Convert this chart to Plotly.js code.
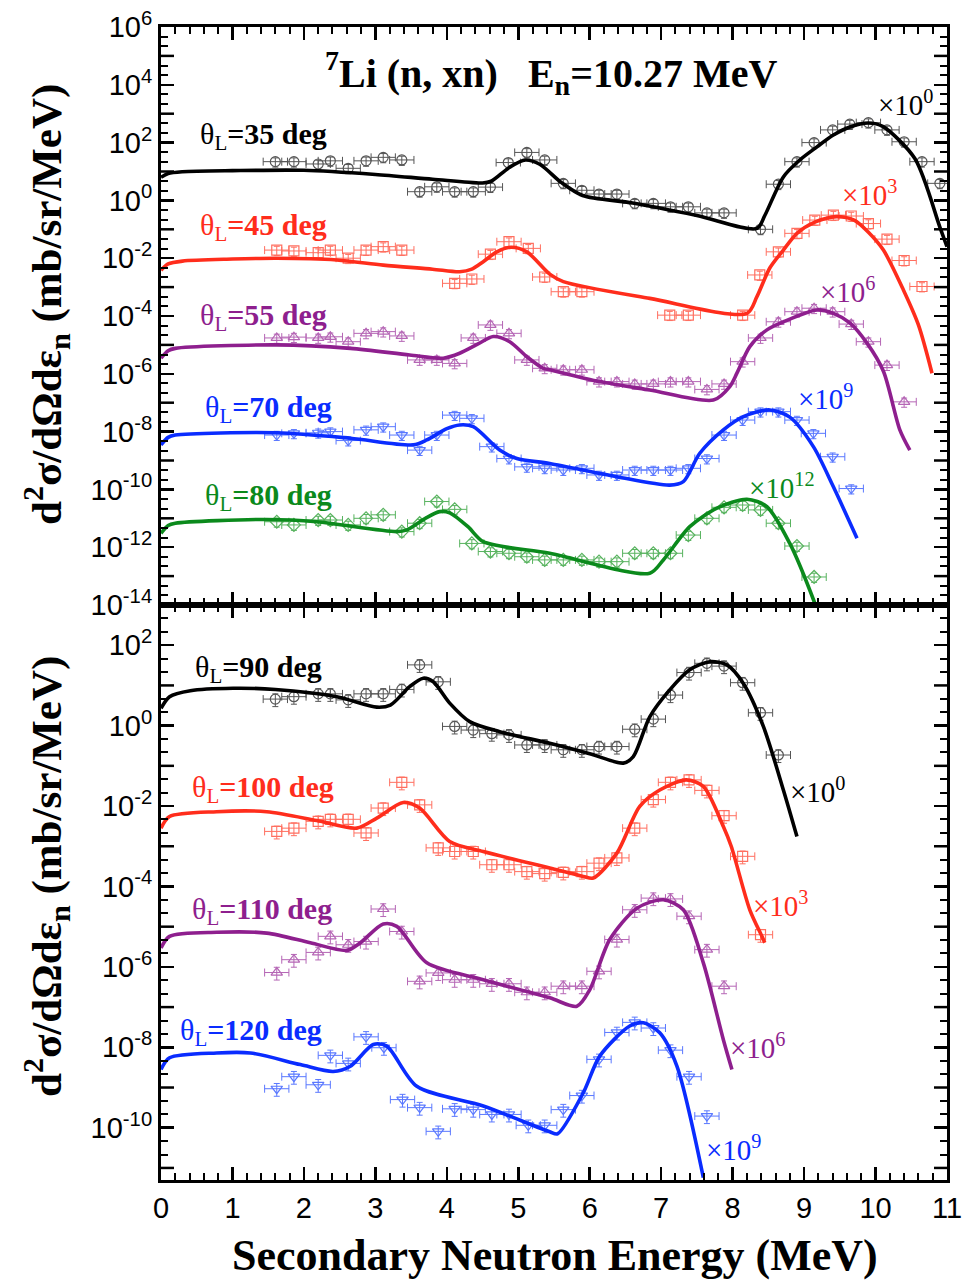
<!DOCTYPE html>
<html><head><meta charset="utf-8">
<script src="https://cdn.plot.ly/plotly-3.0.1.min.js"></script>
<style>html,body{margin:0;padding:0;background:#fff}#chart{width:968px;height:1284px}</style>
</head><body><div id="chart"></div>
<script>
// ---------------- DATA (values as plotted, already scaled) ----------------
// theta = 35 deg (x10^0)
const curveX35 = [0, 0.1, 0.3, 1.0, 2.0, 3.0, 3.8, 4.5, 4.62, 4.88, 5.1, 5.3, 5.6, 5.9, 6.6, 7.5, 8.34, 8.45, 8.71, 8.94, 9.18, 9.41, 9.64, 9.9, 10.1, 10.55, 10.9, 11.0];
const curveY35 = [6.3, 8.5, 9.8, 10.7, 11.0, 7.9, 5.4, 4.0, 4.6, 14.1, 25, 17.8, 4.2, 1.48, 0.81, 0.30, 0.107, 0.30, 6.5, 25, 71, 182, 347, 479, 363, 28, 0.12, 0.025];
const dataX35 = [1.60, 1.86, 2.20, 2.37, 2.62, 2.87, 3.11, 3.37, 3.62, 3.86, 4.11, 4.37, 4.61, 4.86, 5.12, 5.37, 5.63, 5.89, 6.13, 6.38, 6.63, 6.89, 7.13, 7.38, 7.64, 7.88, 8.39, 8.64, 8.90, 9.14, 9.40, 9.64, 9.90, 10.16, 10.40, 10.65, 10.90];
const dataY35 = [21.9, 21.9, 18.2, 23.4, 12.9, 23.4, 30.9, 25.1, 2.0, 2.95, 2.0, 2.0, 2.88, 20.4, 45.7, 25.1, 3.89, 2.24, 1.66, 1.66, 0.79, 0.79, 0.60, 0.60, 0.37, 0.37, 0.10, 3.63, 21.9, 100, 275, 437, 490, 275, 107, 21.9, 3.89];

// theta = 45 deg
const curveX45 = [0, 0.1, 0.3, 1.0, 1.62, 2.46, 3.11, 3.8, 4.18, 4.35, 4.51, 4.7, 4.9, 5.12, 5.44, 5.63, 6.84, 8.20, 8.34, 8.52, 8.71, 8.90, 9.15, 9.45, 9.7, 9.9, 10.11, 10.39, 10.6, 10.79];
const curveY45 = [3.80e-3, 6.31e-3, 7.94e-3, 9.33e-3, 1.0e-2, 8.71e-3, 5.75e-3, 4.17e-3, 3.39e-3, 4.17e-3, 7.59e-3, 1.66e-2, 2.40e-2, 1.66e-2, 2.82e-3, 1.55e-3, 4.07e-4, 1.23e-4, 4.68e-4, 4.57e-3, 1.91e-2, 7.24e-2, 0.178, 0.275, 0.209, 7.94e-2, 1.91e-2, 7.94e-4, 4.90e-5, 1.05e-6];
const dataX45 = [1.62, 1.86, 2.20, 2.37, 2.62, 2.87, 3.11, 3.37, 4.11, 4.35, 4.61, 4.87, 5.14, 5.37, 5.63, 5.89, 7.12, 7.38, 8.14, 8.38, 8.64, 8.90, 9.15, 9.41, 9.66, 9.90, 10.16, 10.40, 10.65];
const dataY45 = [1.91e-2, 1.78e-2, 1.55e-2, 1.91e-2, 1.0e-2, 1.91e-2, 2.51e-2, 1.91e-2, 1.35e-3, 1.91e-3, 1.38e-2, 3.72e-2, 2.19e-2, 2.24e-3, 6.92e-4, 6.92e-4, 1.07e-4, 1.07e-4, 1.07e-4, 2.63e-3, 1.66e-2, 7.24e-2, 0.209, 0.309, 0.288, 0.158, 4.57e-2, 8.32e-3, 1.05e-3];

// theta = 55 deg
const curveX55 = [0, 0.1, 0.2, 1.62, 2.65, 3.48, 3.95, 4.18, 4.45, 4.65, 4.88, 5.12, 5.35, 5.44, 6.14, 6.84, 7.73, 7.96, 8.06, 8.24, 8.48, 8.71, 9.18, 9.41, 9.64, 9.88, 10.11, 10.34, 10.48];
const curveY55 = [3.47e-6, 6.31e-6, 7.59e-6, 1.0e-5, 7.59e-6, 4.47e-6, 3.47e-6, 5.13e-6, 1.12e-5, 1.95e-5, 1.29e-5, 3.89e-6, 1.55e-6, 1.38e-6, 5.37e-7, 2.75e-7, 1.23e-7, 3.63e-7, 1.05e-6, 8.71e-6, 3.31e-5, 6.31e-5, 1.62e-4, 1.23e-4, 5.75e-5, 1.15e-5, 1.23e-6, 1.15e-8, 2.29e-9];
const dataX55 = [1.62, 1.86, 2.20, 2.37, 2.62, 2.87, 3.11, 3.37, 3.62, 3.86, 4.11, 4.37, 4.61, 4.87, 5.12, 5.37, 5.63, 5.89, 6.13, 6.38, 6.63, 6.89, 7.13, 7.38, 7.64, 7.88, 8.14, 8.39, 8.64, 8.90, 9.14, 9.40, 9.66, 9.90, 10.16, 10.40];
const dataY55 = [1.74e-5, 1.86e-5, 1.74e-5, 1.91e-5, 1.29e-5, 2.51e-5, 2.88e-5, 2.04e-5, 3.02e-6, 3.02e-6, 2.29e-6, 1.74e-5, 4.90e-5, 2.51e-5, 3.02e-6, 1.55e-6, 1.38e-6, 1.38e-6, 5.37e-7, 5.37e-7, 4.47e-7, 4.47e-7, 5.37e-7, 5.37e-7, 2.88e-7, 4.47e-7, 2.63e-6, 1.74e-5, 6.31e-5, 1.41e-4, 1.86e-4, 1.41e-4, 5.25e-5, 1.29e-5, 2.0e-6, 1.07e-7];

// theta = 70 deg
const curveX70 = [0, 0.1, 0.2, 1.62, 2.65, 3.53, 3.72, 4.0, 4.18, 4.37, 4.74, 4.98, 5.44, 6.38, 7.12, 7.31, 7.54, 7.87, 8.15, 8.52, 8.80, 9.13, 9.41, 9.74];
const curveY70 = [3.47e-9, 6.31e-9, 7.59e-9, 9.12e-9, 5.89e-9, 3.47e-9, 5.13e-9, 1.26e-8, 1.70e-8, 1.48e-8, 2.29e-9, 1.17e-9, 7.94e-10, 2.75e-10, 1.41e-10, 1.86e-10, 1.78e-9, 1.15e-8, 3.31e-8, 5.62e-8, 3.16e-8, 3.02e-9, 1.23e-10, 2.04e-12];
const dataX70 = [1.62, 1.86, 2.20, 2.37, 2.62, 2.87, 3.11, 3.37, 3.62, 3.86, 4.11, 4.35, 4.63, 4.87, 5.12, 5.37, 5.63, 5.89, 6.13, 6.38, 6.63, 6.89, 7.13, 7.38, 7.64, 7.88, 8.14, 8.39, 8.64, 8.90, 9.13, 9.40, 9.66];
const dataY70 = [7.59e-9, 8.71e-9, 9.12e-9, 1.0e-8, 4.90e-9, 1.15e-8, 1.48e-8, 7.59e-9, 2.29e-9, 7.59e-9, 3.72e-8, 2.88e-8, 3.02e-9, 1.17e-9, 6.03e-10, 5.37e-10, 4.68e-10, 5.37e-10, 3.16e-10, 3.16e-10, 4.68e-10, 4.68e-10, 4.68e-10, 5.37e-10, 1.17e-9, 7.59e-9, 2.51e-8, 4.90e-8, 4.90e-8, 2.51e-8, 8.71e-9, 1.35e-9, 1.07e-10];

// theta = 80 deg
const curveX80 = [0, 0.1, 0.2, 1.48, 2.18, 3.30, 3.44, 3.70, 3.90, 4.04, 4.3, 4.51, 5.44, 6.84, 7.03, 7.40, 7.78, 8.20, 8.48, 8.80, 9.15, 9.2];
const curveY80 = [3.02e-12, 5.62e-12, 6.76e-12, 9.12e-12, 7.59e-12, 3.47e-12, 3.98e-12, 1.0e-11, 1.70e-11, 1.55e-11, 5.01e-12, 1.55e-12, 6.17e-13, 1.26e-13, 3.63e-13, 5.13e-12, 2.24e-11, 4.57e-11, 2.51e-11, 1.35e-12, 1.15e-14, 5.01e-15];
const dataX80 = [1.62, 1.86, 2.20, 2.37, 2.62, 2.87, 3.11, 3.37, 3.62, 3.86, 4.11, 4.35, 4.61, 4.87, 5.12, 5.37, 5.63, 5.89, 6.13, 6.38, 6.63, 6.89, 7.13, 7.38, 7.64, 7.88, 8.14, 8.39, 8.64, 8.90, 9.14];
const dataY80 = [7.59e-12, 5.89e-12, 8.71e-12, 8.71e-12, 5.89e-12, 1.0e-11, 1.32e-11, 3.47e-12, 6.76e-12, 3.80e-11, 2.04e-11, 1.35e-12, 7.08e-13, 6.17e-13, 4.68e-13, 3.63e-13, 3.63e-13, 3.63e-13, 3.16e-13, 3.16e-13, 6.17e-13, 6.17e-13, 6.17e-13, 2.63e-12, 1.0e-11, 2.40e-11, 2.88e-11, 1.95e-11, 6.76e-12, 1.10e-12, 9.33e-14];

// theta = 90 deg (lower panel)
const curveX90 = [0, 0.12, 0.41, 1.01, 1.60, 2.46, 3.02, 3.21, 3.48, 3.67, 3.81, 4.04, 4.32, 4.74, 5.44, 6.0, 6.47, 6.61, 6.84, 7.12, 7.40, 7.68, 7.92, 8.15, 8.43, 8.71, 8.90];
const curveY90 = [2.69, 5.25, 7.41, 8.51, 7.94, 5.25, 2.88, 3.24, 9.33, 15.1, 12.3, 3.63, 1.26, 0.708, 0.363, 0.200, 0.117, 0.170, 1.66, 7.76, 24.5, 38.9, 32.4, 11.2, 0.955, 0.0251, 1.74e-3];
const dataX90 = [1.60, 1.86, 2.20, 2.37, 2.62, 2.87, 3.11, 3.37, 3.62, 3.88, 4.11, 4.37, 4.63, 4.87, 5.12, 5.37, 5.63, 5.89, 6.13, 6.38, 6.63, 6.89, 7.13, 7.39, 7.64, 7.88, 8.14, 8.39, 8.64];
const dataY90 = [4.57, 5.25, 6.17, 6.17, 4.37, 6.17, 6.17, 7.94, 32.4, 12.3, 0.955, 0.776, 0.631, 0.589, 0.331, 0.331, 0.251, 0.251, 0.302, 0.302, 0.813, 1.45, 5.75, 20.9, 35.5, 30.2, 11.7, 2.09, 0.186];

// theta = 100 deg
const curveX100 = [0, 0.12, 0.78, 1.48, 2.18, 2.74, 3.02, 3.39, 3.62, 4.04, 4.51, 5.44, 5.91, 6.05, 6.38, 6.70, 6.98, 7.35, 7.59, 7.87, 7.98, 8.24, 8.41, 8.45];
const curveY100 = [2.82e-3, 5.50e-3, 7.24e-3, 7.24e-3, 4.37e-3, 2.82e-3, 5.01e-3, 1.23e-2, 8.91e-3, 1.32e-3, 7.41e-4, 2.88e-4, 1.78e-4, 1.62e-4, 6.76e-4, 9.77e-3, 2.51e-2, 4.47e-2, 3.09e-2, 3.09e-3, 1.0e-3, 2.63e-5, 5.75e-6, 3.98e-6];
const dataX100 = [1.62, 1.86, 2.20, 2.37, 2.62, 2.87, 3.11, 3.37, 3.62, 3.88, 4.11, 4.37, 4.63, 4.87, 5.12, 5.37, 5.63, 5.89, 6.13, 6.38, 6.63, 6.89, 7.13, 7.39, 7.64, 7.88, 8.14, 8.39];
const dataY100 = [2.34e-3, 2.82e-3, 4.17e-3, 4.68e-3, 4.68e-3, 2.14e-3, 8.91e-3, 3.89e-2, 1.07e-2, 9.12e-4, 7.41e-4, 7.41e-4, 3.47e-4, 3.47e-4, 2.34e-4, 2.09e-4, 2.24e-4, 2.34e-4, 3.80e-4, 5.13e-4, 2.82e-3, 1.45e-2, 3.89e-2, 4.47e-2, 2.45e-2, 5.75e-3, 5.62e-4, 6.31e-6];

// theta = 110 deg
const curveX110 = [0, 0.12, 0.78, 1.48, 2.09, 2.60, 2.79, 3.11, 3.30, 3.72, 4.51, 5.44, 5.82, 6.00, 6.28, 6.66, 7.03, 7.31, 7.59, 7.87, 7.99];
const curveY110 = [2.95e-6, 5.75e-6, 7.24e-6, 6.92e-6, 3.98e-6, 2.57e-6, 3.98e-6, 1.17e-5, 1.02e-5, 1.26e-6, 4.79e-7, 1.70e-7, 1.05e-7, 2.69e-7, 4.79e-6, 2.88e-5, 4.68e-5, 2.63e-5, 1.26e-6, 1.55e-8, 2.82e-9];
const dataX110 = [1.62, 1.86, 2.20, 2.37, 2.62, 2.87, 3.11, 3.37, 3.62, 3.88, 4.11, 4.37, 4.63, 4.87, 5.12, 5.37, 5.63, 5.89, 6.13, 6.38, 6.63, 6.89, 7.13, 7.39, 7.64, 7.88];
const dataY110 = [7.24e-7, 1.51e-6, 2.29e-6, 5.75e-6, 3.55e-6, 4.27e-6, 2.75e-5, 7.59e-6, 4.37e-7, 7.08e-7, 4.79e-7, 4.79e-7, 3.80e-7, 3.80e-7, 2.34e-7, 2.34e-7, 3.31e-7, 3.31e-7, 7.76e-7, 4.79e-6, 2.63e-5, 5.13e-5, 4.90e-5, 1.82e-5, 2.69e-6, 3.31e-7];

// theta = 120 deg
const curveX120 = [0, 0.12, 0.78, 1.25, 1.95, 2.41, 2.65, 2.97, 3.16, 3.58, 4.51, 5.44, 5.55, 5.91, 6.14, 6.56, 6.75, 6.98, 7.22, 7.59];
const curveY120 = [2.82e-9, 5.50e-9, 7.24e-9, 7.24e-9, 3.72e-9, 2.51e-9, 3.39e-9, 1.17e-8, 1.07e-8, 1.07e-9, 3.47e-10, 7.94e-11, 7.08e-11, 7.41e-10, 6.03e-9, 3.39e-8, 4.07e-8, 2.29e-8, 3.39e-9, 5.75e-12];
const dataX120 = [1.62, 1.86, 2.20, 2.37, 2.62, 2.87, 3.12, 3.38, 3.62, 3.88, 4.11, 4.37, 4.63, 4.87, 5.14, 5.37, 5.63, 5.89, 6.13, 6.38, 6.63, 6.89, 7.13, 7.39, 7.64];
const dataY120 = [9.33e-10, 1.86e-9, 1.17e-9, 6.31e-9, 3.98e-9, 1.82e-8, 9.77e-9, 5.01e-10, 3.16e-10, 8.13e-11, 2.95e-10, 2.82e-10, 2.14e-10, 2.14e-10, 1.15e-10, 1.15e-10, 2.82e-10, 6.31e-10, 5.01e-9, 2.34e-8, 4.17e-8, 3.02e-8, 8.51e-9, 1.86e-9, 1.95e-10];

// labels
const angleLabels = ['35', '45', '55', '70', '80', '90', '100', '110', '120'];
const scaleLabels = ['0', '3', '6', '9', '12', '0', '3', '6', '9'];
const xTickVals = [0,1,2,3,4,5,6,7,8,9,10,11];

// ---------------- STYLE ----------------
const COL = {
  black:  {line:'#000000', pt:'#555555'},
  red:    {line:'#ff2d1c', pt:'#ff6f60'},
  purple: {line:'#8e1f8e', pt:'#b566b5'},
  blue:   {line:'#0a2cff', pt:'#5a78ff'},
  green:  {line:'#0b8a1c', pt:'#58b35f'}
};
const series = [
  {cx:curveX35,  cy:curveY35,  dx:dataX35,  dy:dataY35,  p:1, c:COL.black,  s:'circle-open'},
  {cx:curveX45,  cy:curveY45,  dx:dataX45,  dy:dataY45,  p:1, c:COL.red,    s:'square-open'},
  {cx:curveX55,  cy:curveY55,  dx:dataX55,  dy:dataY55,  p:1, c:COL.purple, s:'triangle-up-open'},
  {cx:curveX70,  cy:curveY70,  dx:dataX70,  dy:dataY70,  p:1, c:COL.blue,   s:'triangle-down-open'},
  {cx:curveX80,  cy:curveY80,  dx:dataX80,  dy:dataY80,  p:1, c:COL.green,  s:'diamond-open'},
  {cx:curveX90,  cy:curveY90,  dx:dataX90,  dy:dataY90,  p:2, c:COL.black,  s:'circle-open'},
  {cx:curveX100, cy:curveY100, dx:dataX100, dy:dataY100, p:2, c:COL.red,    s:'square-open'},
  {cx:curveX110, cy:curveY110, dx:dataX110, dy:dataY110, p:2, c:COL.purple, s:'triangle-up-open'},
  {cx:curveX120, cy:curveY120, dx:dataX120, dy:dataY120, p:2, c:COL.blue,   s:'triangle-down-open'}
];

const traces = [];
series.forEach(sr => {
  const xa = sr.p === 1 ? 'x' : 'x2', ya = sr.p === 1 ? 'y' : 'y2';
  traces.push({
    type:'scatter', mode:'markers', x:sr.dx, y:sr.dy, xaxis:xa, yaxis:ya,
    marker:{symbol:sr.s, size:10, color:sr.c.pt, line:{width:1.2, color:sr.c.pt}},
    error_x:{type:'constant', value:0.17, color:sr.c.pt, thickness:1, width:4},
    error_y:{type:'percent', value:35, color:sr.c.pt, thickness:1, width:3},
    hoverinfo:'skip'
  });
});
series.forEach(sr => {
  const xa = sr.p === 1 ? 'x' : 'x2', ya = sr.p === 1 ? 'y' : 'y2';
  traces.push({
    type:'scatter', mode:'lines', x:sr.cx, y:sr.cy, xaxis:xa, yaxis:ya,
    line:{color:sr.c.line, width:3.6, shape:'spline', smoothing:0.8},
    hoverinfo:'skip'
  });
});

// ---------------- LAYOUT ----------------
const L = 161, R = 947, T = 27, B = 1180, MID = 605;
const PX = px => (px - L) / (R - L);
const PY = py => (B - py) / (B - T);
const split = (B - MID) / (B - T);

function logTicks(lo, hi) {
  const vals = [], txt = [], minor = [];
  for (let n = lo; n <= hi; n++) {
    if (n % 2 === 0) { vals.push(Math.pow(10, n)); txt.push('10<sup>' + n + '</sup>'); }
    else { minor.push(Math.pow(10, n)); }
  }
  return {vals, txt, minor};
}
function thirdTicks(lo, hi) {
  const v = [];
  for (let n = lo; n <= hi; n++) v.push(Math.pow(10, n + 1/3), Math.pow(10, n + 2/3));
  return v;
}
const tTop = logTicks(-14, 6), tBot = logTicks(-12, 3);
const tickFont = {family:'Liberation Sans, Arial, sans-serif', size:29, color:'#000'};

const baseX = {
  range:[0, 11], tickmode:'array', tickvals:xTickVals, ticks:'inside', ticklen:13, tickwidth:2.5,
  tickcolor:'#000', mirror:'allticks', showline:true, linewidth:3, linecolor:'#000',
  showgrid:false, zeroline:false, tickfont:tickFont,
  minor:{ticks:'inside', dtick:0.2, tick0:0, ticklen:7, tickwidth:2, tickcolor:'#000', showgrid:false}
};
const baseY = {
  type:'log', tickmode:'array', ticks:'inside', ticklen:13, tickwidth:2.5, tickcolor:'#000',
  mirror:'allticks', showline:true, linewidth:3, linecolor:'#000', showgrid:false, zeroline:false,
  tickfont:tickFont
};

// odd decades: long unlabeled ticks drawn as shapes; thirds of decades: minor ticks
const shapes = [];
function decadeTickShapes(vals, yref) {
  vals.forEach(v => {
    shapes.push({type:'line', xref:'paper', yref:yref, x0:0, x1:13/786, y0:v, y1:v, line:{color:'#000', width:2.5}});
    shapes.push({type:'line', xref:'paper', yref:yref, x0:1 - 13/786, x1:1, y0:v, y1:v, line:{color:'#000', width:2.5}});
  });
}
decadeTickShapes(tTop.minor, 'y');
decadeTickShapes(tBot.minor.filter(v => v > Math.pow(10, -11.3)), 'y2');

const serif = 'Liberation Serif, Times New Roman, serif';
const ann = [];
function A(text, px, py, opts) {
  ann.push(Object.assign({text, x:PX(px), y:PY(py), xref:'paper', yref:'paper', showarrow:false,
    xanchor:'left', yanchor:'middle', font:{family:serif, size:28, color:'#000'}}, opts || {}));
}
// title
A('<b><sup>7</sup>Li (n, xn)\u00a0\u00a0\u00a0E<sub>n</sub>=10.27 MeV</b>', 551, 73, {xanchor:'center', font:{family:serif, size:40, color:'#000'}});
// angle labels
const angPos = [[198,136],[198,227],[198,317],[203,409],[203,497],[193,669],[190,789],[190,911],[178,1032]];
const scPos = [[876,103],[840,193],[818,290],[796,397],[747,486],[788,790],[751,904],[728,1046],[704,1148]];
series.forEach((sr, i) => {
  A('θ<sub>L</sub><b>=' + angleLabels[i] + ' deg</b>', angPos[i][0], angPos[i][1], {font:{family:serif, size:30, color:sr.c.line}});
  A('×10<sup>' + scaleLabels[i] + '</sup>', scPos[i][0], scPos[i][1], {font:{family:serif, size:29, color:sr.c.line}});
});
// axis titles
const yTitle = '<b>d<sup>2</sup>σ/dΩdε<sub>n</sub> (mb/sr/MeV)</b>';
A(yTitle, 46, 305, {xanchor:'center', textangle:-90, font:{family:serif, size:43, color:'#000'}});
A(yTitle, 46, 877, {xanchor:'center', textangle:-90, font:{family:serif, size:43, color:'#000'}});
A('<b>Secondary Neutron Energy (MeV)</b>', 555, 1255, {xanchor:'center', font:{family:serif, size:44, color:'#000'}});

const layout = {
  width:968, height:1284, margin:{l:L, r:968 - R, t:T, b:1284 - B},
  paper_bgcolor:'#fff', plot_bgcolor:'#fff', showlegend:false,
  xaxis: Object.assign({}, baseX, {anchor:'y', showticklabels:false}),
  xaxis2: Object.assign({}, baseX, {anchor:'y2', showticklabels:true}),
  yaxis: Object.assign({}, baseY, {domain:[split, 1], anchor:'x', range:[-14, 6], tickvals:tTop.vals, ticktext:tTop.txt,
          minor:{tickmode:'array', tickvals:thirdTicks(-14, 5), ticks:'inside', ticklen:7, tickwidth:2, tickcolor:'#000'}}),
  yaxis2: Object.assign({}, baseY, {domain:[0, split], anchor:'x2', range:[-11.3, 3], tickvals:tBot.vals, ticktext:tBot.txt,
          minor:{tickmode:'array', tickvals:thirdTicks(-12, 2), ticks:'inside', ticklen:7, tickwidth:2, tickcolor:'#000'}}),
  shapes: shapes,
  annotations: ann
};

Plotly.newPlot('chart', traces, layout, {displayModeBar:false, staticPlot:true});
</script></body></html>
